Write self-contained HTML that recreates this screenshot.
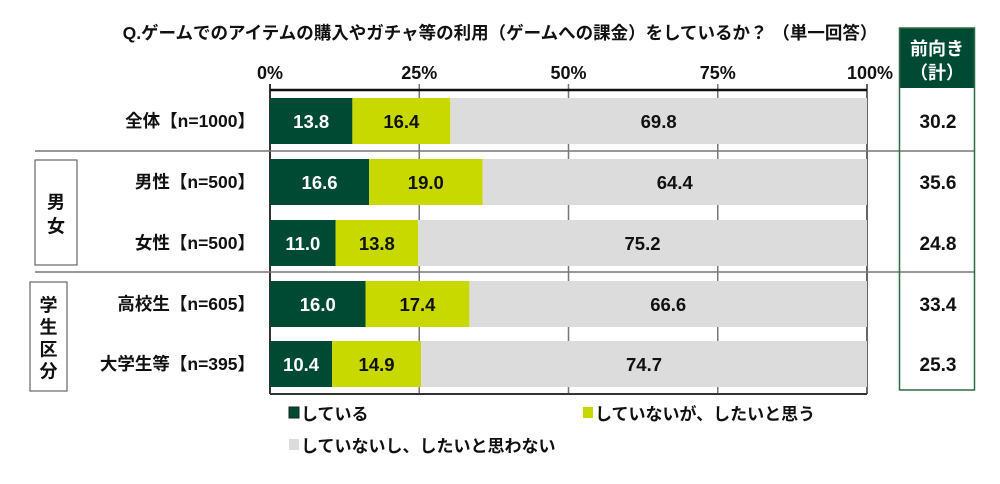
<!DOCTYPE html>
<html><head><meta charset="utf-8"><style>
body{margin:0;background:#fff;width:1000px;height:479px;overflow:hidden;font-family:"Liberation Sans","Noto Sans CJK JP",sans-serif;font-weight:bold;}
svg text{font-family:"Liberation Sans","Noto Sans CJK JP",sans-serif;font-weight:bold;}
</style></head><body>
<svg id="c" width="1000" height="479">
<text x="500" y="39" font-size="17.5" text-anchor="middle" fill="#111">Q.ゲームでのアイテムの購入やガチャ等の利用（ゲームへの課金）をしているか？ （単一回答）</text>
</svg>
<script>
const categories=["全体【n=1000】","男性【n=500】","女性【n=500】","高校生【n=605】","大学生等【n=395】"];
const doing=[13.8,16.6,11.0,16.0,10.4];
const wantTo=[16.4,19.0,13.8,17.4,14.9];
const notWant=[69.8,64.4,75.2,66.6,74.7];
const positiveTotal=[30.2,35.6,24.8,33.4,25.3];
const ticks=[0,25,50,75,100];
const seriesNames=["している","していないが、したいと思う","していないし、したいと思わない"];
const colors=["#004a33","#c8d900","#dcdcdc"];
const svg=document.getElementById('c');
const NS="http://www.w3.org/2000/svg";
const x0=270,x1=867;
const xs=v=>x0+(x1-x0)*v/100;
const rowTop=[98,159,220,281,341],barH=46;
function el(t,a,p){const e=document.createElementNS(NS,t);for(const k in a)e.setAttribute(k,a[k]);(p||svg).appendChild(e);return e;}
ticks.forEach((t,i)=>{
 const g=el('line',{x1:xs(t),x2:xs(t),y1:84,y2:394,stroke:t==0||t==100?'#333':'#777','stroke-width':t==0?2:1.5});
 
 
 const l=el('text',{x:xs(t),y:79,'font-size':18,'text-anchor':t==100?'end':'middle',fill:'#111'});
 if(t==100)l.setAttribute('x',xs(t)+26);
 l.textContent=t+'%';
 
 
});
const ax=el('line',{x1:x0,x2:x1,y1:90,y2:90,stroke:'#111','stroke-width':2.5});


const bx=el('line',{x1:x0,x2:x1,y1:394,y2:394,stroke:'#333','stroke-width':2});


[151,272].forEach((y,i)=>{const s=el('line',{x1:35,x2:975,y1:y,y2:y,stroke:'#777','stroke-width':1.5});

});
categories.forEach((c,i)=>{
 const y=rowTop[i];
 const vals=[doing[i],wantTo[i],notWant[i]];
 let acc=0;
 vals.forEach((v,j)=>{
  const r=el('rect',{x:xs(acc),y:y,width:xs(acc+v)-xs(acc),height:barH,fill:colors[j]});
  
  
  const t=el('text',{x:(xs(acc)+xs(acc+v))/2,y:y+barH/2+7,'font-size':18.5,'text-anchor':'middle',fill:j==0?'#fff':'#111'});
  t.textContent=v.toFixed(1);
  
  
  acc+=v;
 });
 const cl=el('text',{x:255,y:y+barH/2+6,'font-size':17.5,'text-anchor':'end',fill:'#111'});
 cl.textContent=c;
 
 
 const pv=el('text',{x:938,y:y+barH/2+7,'font-size':19,'text-anchor':'middle',fill:'#111'});
 pv.textContent=positiveTotal[i].toFixed(1);
 
 
});
const hb=el('rect',{x:899,y:28,width:76,height:60,fill:'#004a33'});


const ob=el('rect',{x:899.5,y:28,width:75,height:362,fill:'none',stroke:'#2e6b45','stroke-width':1.5});


[["前向き",55],["（計）",79]].forEach(([s,y])=>{const t=el('text',{x:937,y:y,'font-size':18,'text-anchor':'middle',fill:'#fff'});t.textContent=s;

});
[[35,160,42,105,["男","女"]],[30,282,37,109,["学","生","区","分"]]].forEach(([x,y,w,h,chs])=>{
 const b=el('rect',{x:x,y:y,width:w,height:h,fill:'#fff',stroke:'#666','stroke-width':1.2});
 
 
 chs.forEach((ch,k)=>{const t=el('text',{x:x+w/2,y:y+h/2+8+(k-(chs.length-1)/2)*(chs.length==2?24:22),'font-size':18,'text-anchor':'middle',fill:'#111'});t.textContent=ch;
 
 });
});
[[289,420],[583,420],[289,452]].forEach(([x,y],j)=>{
 const s=el('rect',{x:x,y:y-13,width:10,height:11,fill:colors[j],stroke:j==0?'#222':'none'});
 
 
 const t=el('text',{x:x+12,y:y,'font-size':17,fill:'#111'});
 t.textContent=seriesNames[j];
 
 
});
</script>
</body></html>
